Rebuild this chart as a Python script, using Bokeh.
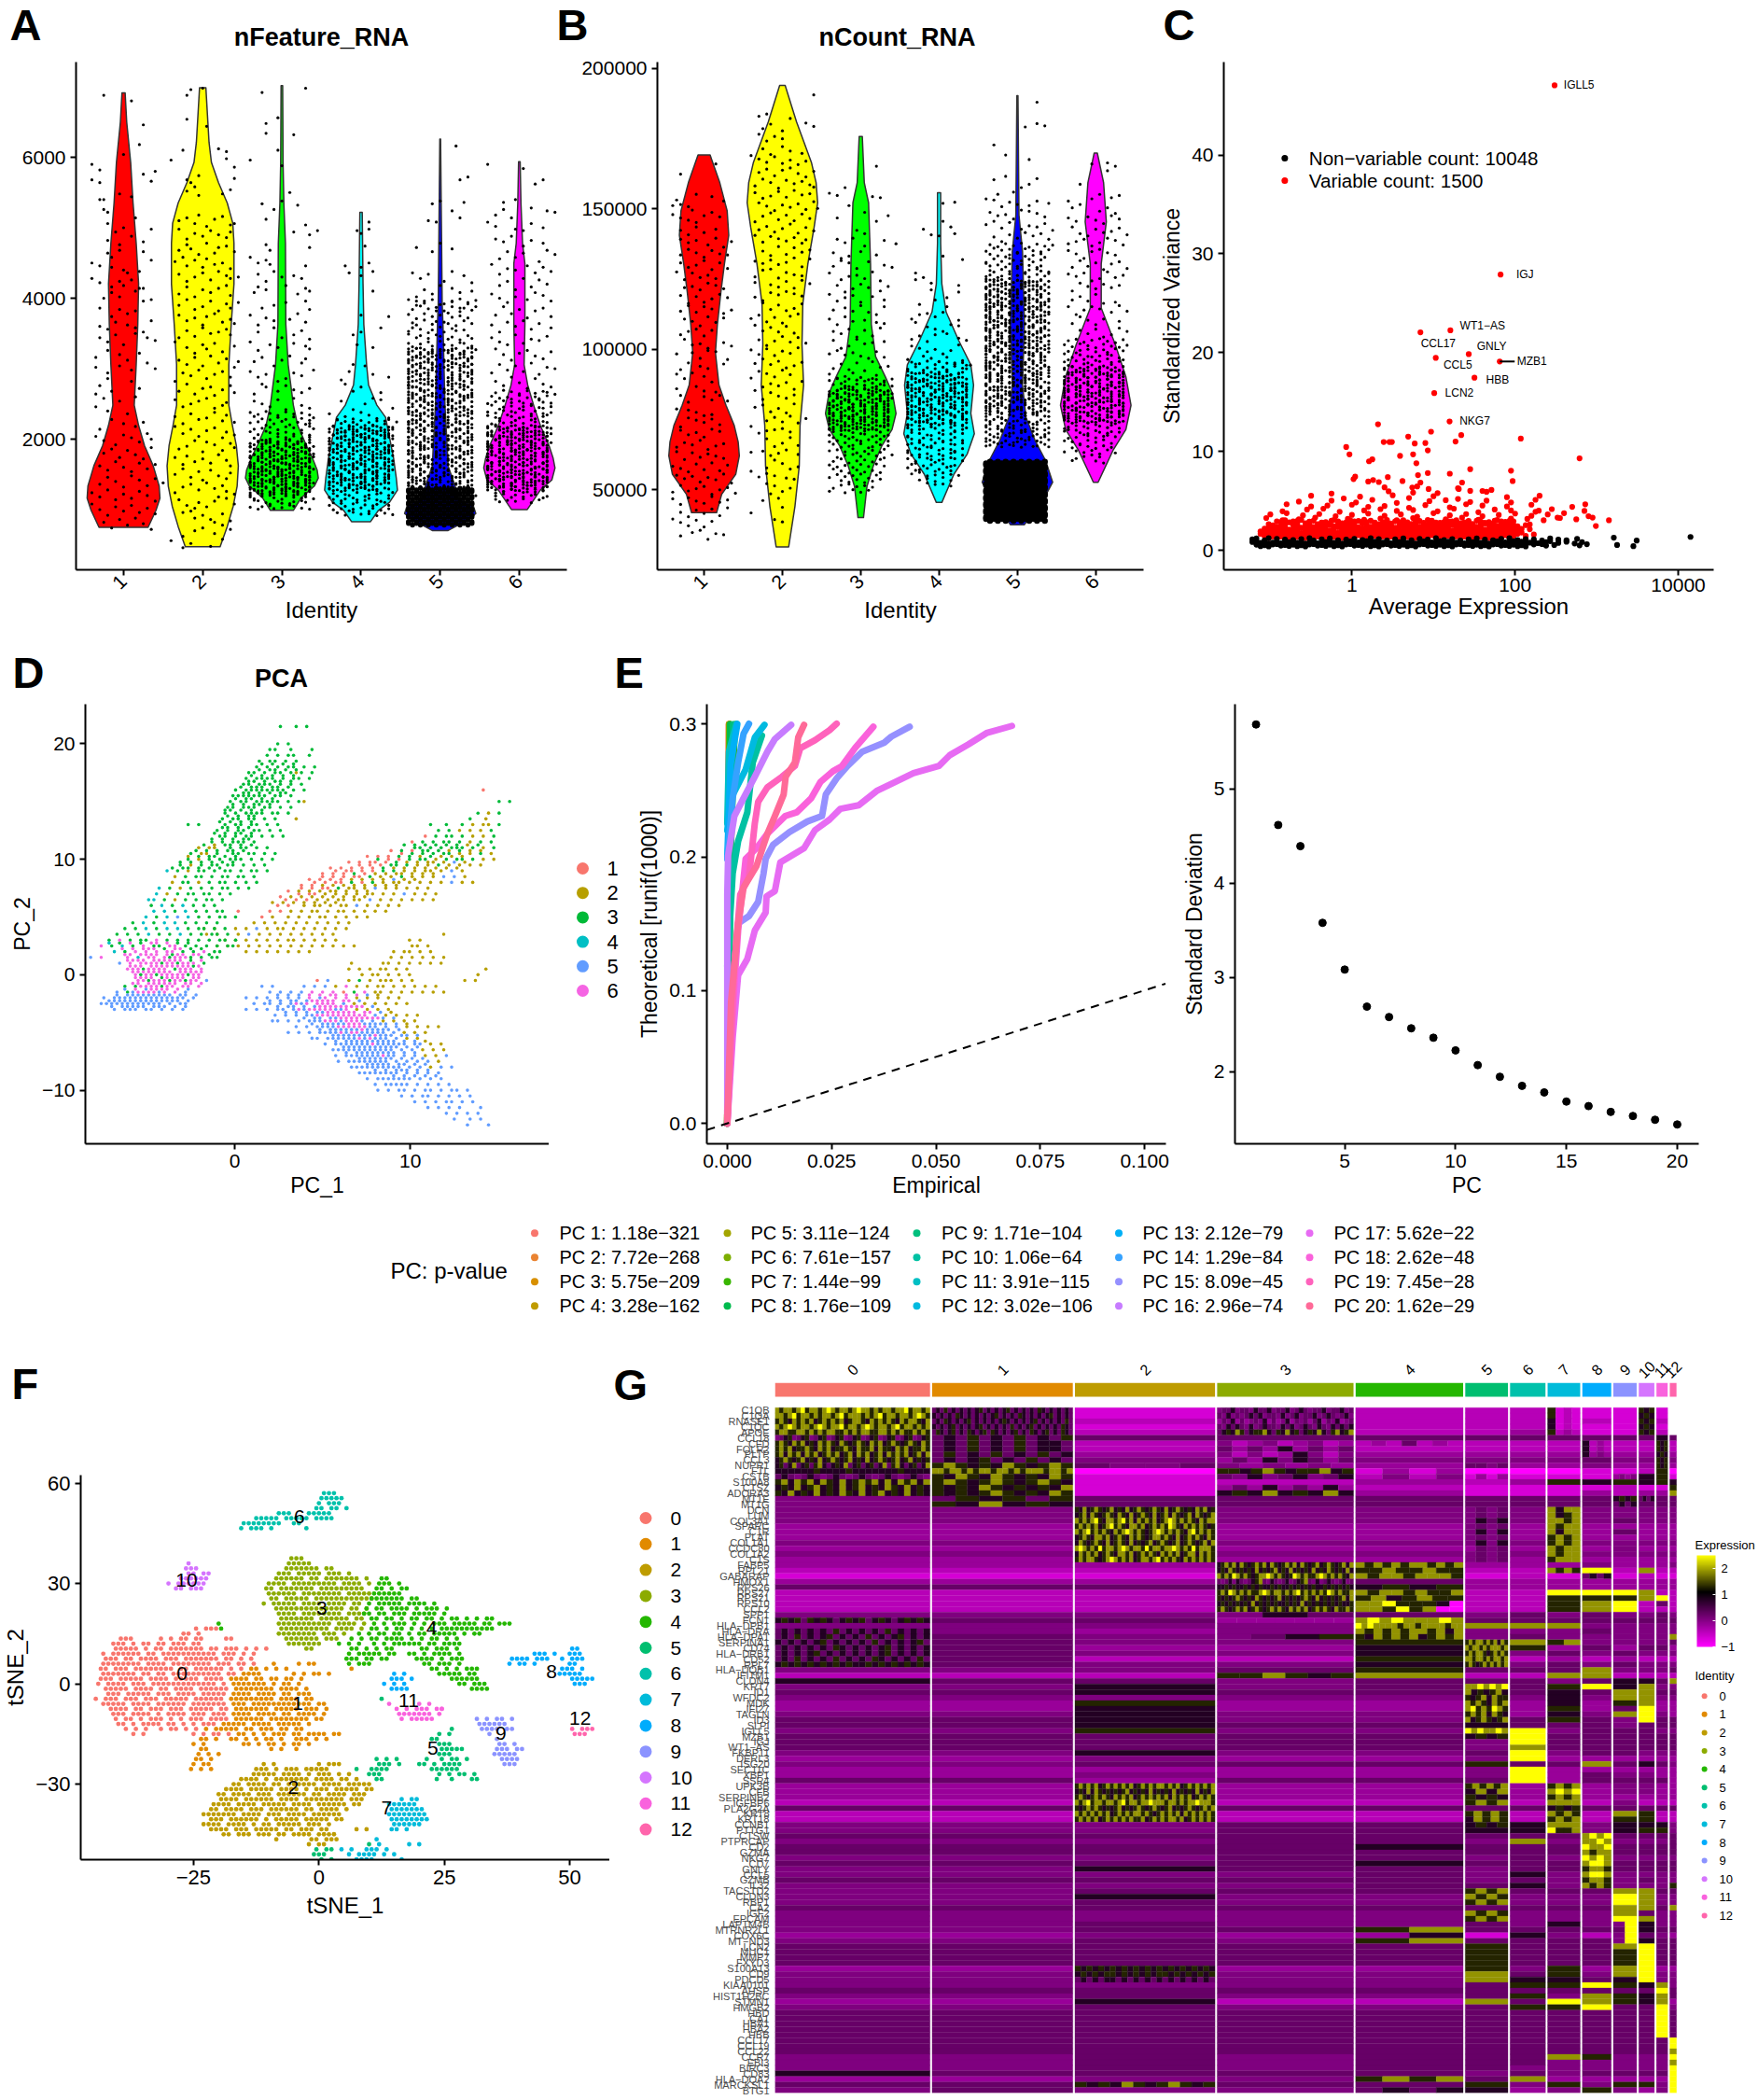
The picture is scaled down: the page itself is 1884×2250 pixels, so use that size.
from bokeh.plotting import figure
from bokeh.models import Range1d, FixedTicker, Label, ColorBar, LinearColorMapper, ColumnDataSource
from bokeh.layouts import row, column
from bokeh.embed import file_html
from bokeh.resources import INLINE

FONT = "Liberation Sans"
violin_colors = ["#FF0000", "#FFFF00", "#00FF00", "#00FFFF", "#0000FF", "#FF00FF"]
hue6 = ["#F8766D", "#B79F00", "#00BA38", "#00BFC4", "#619CFF", "#F564E3"]
hue13 = ["#F8766D", "#E18A00", "#BE9C00", "#8CAB00", "#24B700", "#00BE70", "#00C1AB", "#00BBDA", "#00ACFC", "#8B93FF", "#D575FE", "#F962DD", "#FF65AC"]
hue20 = ["#F8766D", "#EA8331", "#D89000", "#C09B00", "#A3A500", "#7CAE00", "#39B600", "#00BB4E", "#00BF7D", "#00C1A3", "#00BFC4", "#00BAE0", "#00B0F6", "#35A2FF", "#9590FF", "#C77CFF", "#E76BF3", "#FA62DB", "#FF62BC", "#FF6A98"]
pc_labels = ["PC 1: 1.18e\u2212321", "PC 2: 7.72e\u2212268", "PC 3: 5.75e\u2212209", "PC 4: 3.28e\u2212162", "PC 5: 3.11e\u2212124", "PC 6: 7.61e\u2212157", "PC 7: 1.44e\u221299", "PC 8: 1.76e\u2212109", "PC 9: 1.71e\u2212104", "PC 10: 1.06e\u221264", "PC 11: 3.91e\u2212115", "PC 12: 3.02e\u2212106", "PC 13: 2.12e\u221279", "PC 14: 1.29e\u221284", "PC 15: 8.09e\u221245", "PC 16: 2.96e\u221274", "PC 17: 5.62e\u221222", "PC 18: 2.62e\u221248", "PC 19: 7.45e\u221228", "PC 20: 1.62e\u221229"]

# violin outlines: (value, half width)
a_prof = [
 ([6913,6500,5926,5352,4778,4204,3630,3056,2482,2195,1908,1621,1334,1162,990,749],[.02,.04,.09,.12,.16,.19,.18,.16,.135,.19,.265,.375,.45,.46,.41,.31]),
 ([6988,6500,6213,5926,5640,5352,5065,4778,4204,3630,3056,2482,2195,1908,1621,1334,1047,760,473],[.04,.065,.08,.11,.2,.31,.38,.395,.395,.36,.33,.33,.375,.425,.45,.435,.385,.31,.22]),
 ([7017,5926,5352,4778,3630,3056,2482,2195,1908,1736,1564,1449,1334,1162,990],[.01,.015,.025,.045,.05,.08,.145,.2,.31,.385,.445,.46,.41,.24,.145]),
 ([5220,4204,3630,3056,2769,2482,2310,2023,1736,1449,1277,1105,990,829],[.015,.025,.035,.07,.095,.2,.31,.36,.41,.445,.46,.36,.22,.12]),
 ([6259,3917,3630,2482,1621,1161,1047,944,846,703],[.005,.025,.035,.06,.1,.24,.42,.45,.34,.1]),
 ([5937,5352,4778,4490,3630,3056,2769,2482,2195,1908,1736,1592,1420,1277,1001],[.01,.02,.04,.07,.07,.06,.105,.18,.265,.375,.425,.45,.41,.265,.1]),
]
b_prof = [
 ([169200,159400,149300,140600,130500,120500,108900,98800,87300,80100,72900,67100,62100,55600,48400,41900],[.077,.2,.295,.315,.26,.215,.17,.145,.19,.28,.385,.435,.45,.405,.225,.16]),
 ([194000,181000,166600,159400,152200,143500,130500,116100,101700,87300,72900,58500,44100,29700],[.035,.18,.37,.43,.45,.405,.325,.26,.25,.27,.225,.215,.16,.08]),
 ([175800,159400,152200,130500,108900,97400,90200,84400,77200,71500,65700,58500,51300,40100],[.02,.045,.1,.125,.135,.19,.315,.405,.45,.4,.27,.16,.08,.035]),
 ([155800,137800,123300,113300,103200,94500,87300,77200,70000,62800,55600,45500],[.02,.02,.035,.09,.25,.405,.44,.405,.45,.36,.19,.035]),
 ([190300,147800,134900,108900,87300,75800,67600,60400,52700,47000,37600],[.007,.02,.065,.09,.065,.11,.225,.36,.45,.34,.09]),
 ([169900,159400,145400,130500,114700,101700,90200,80100,71500,64300,52700],[.02,.1,.135,.07,.07,.25,.385,.45,.385,.225,.03]),
]
# jittered cells per identity: (top value, band height, rows); column = jitter position, digit = position inside the band
a_jit = {
1: [(6900, 200, ["   1      5", "", "             2", "            6", "        3", "0 4          7  5", "1 3            2", "  55   1  3", "   24      8", "    2 8 5      6", "    4  7  1  5", "    36 1     2 8", "0 2  3  57  6", "1 4  7 36 2 88", "   5 1 4   0 7 6", "  2  8 3 6 4", "  5 7 2  4 6 9 1", "  3 6 1 8  0  3 5", " 7  2  5 9  4", " 4  8  3  6   1 5", "  7 2     4 9", " 3 6 1 8   5", " 2  5    7", "  8  1  4  6 3", " 3 6  9 2 4 7 15", "   5 2 8 3 6 9 1", "  4 7 1 5 8 2 6 3", "  7 2 5 9 1 4 8 3 6", "3 6 1 8 4 7 2 5 9", "1 5 9 3 6 2 7 4 8", "   4 8 2 6 1 5 9"])],
2: [(7000, 200, ["    62  1", "", "    3    8", "", "   5        4 6", "2             1 7", "    68 3        5", "    4 17     6 3", "", "  5 3 71 9 4 2 87", "  1 8 4 6 2 5 73", "  6 25 9 1 84 3 7", " 4 17 3 82 6 5 9", "  3 8 5 2 7 1 46 5", "  7 2 9 4 6 3 18", "  5 1 8 6 2 9 47 3", "  2 6 4 93 1 7 58", "  8 3 7 1 5 4 26", " 1  5 9 36 2 8  4", "  4 7 2 8 1 6 3 95", " 9 3 5 1 7 4 2 6", "  6 1 8 4 39 5 27", " 2 7 5 3 1 8 64", " 4 9 2 6 5 1 73 8", " 1 6 3 8 4 2 95 7", "  7 5 1 92 4 8 36", " 3 82 6 4 7 1 59", " 5 1 7 39 2 6 84", " 8 4 2 6 1 5 37 9", "  3 7 95 8 41 2 6", "   2 16 4 79 3 8", "   9  5 3  7 1 4", "2  7 4    6  1"])],
3: [(7000, 200, ["   4          1", "", "    6  2", "    3      4", "       5", "2       6", "", "          5", "   3  7 1   4", "    4         8", "           3   5 2", "    26         4", "1 5 36        7", "  3 8 1 5  4 6", " 62 4    1  7 35", "   7  5  3    28", "2 9 4 6   5 1 7", "  4   1 8  6 3 9", "1 7  3 5   2  46", " 5 2  8 4 1  63", "2 6 4  9 7 3 5  1", " 8 13  6 2 5 7 4", " 3 5 7 2 9 1 6 8"]),
    (2400, 70, ["3 7 15 9 2 6 4 8", " 1 6 8 3 7 2 5 94", "4 2 9 6 1 8 3 75", " 7 5 3 8 2 4 9 16", "2 8 14 6 3 7 5 9", " 5 9 7 2 481 6 3", "6 1 34 8 5 92 74", "37 2 9 5 1 68 4 2", " 8 61 47 3 9 25 7", "5 3 82 96 1 47 63", "9 14 7 25 8 36 1", "2 86 3 59 71 4 68", " 47 12 83 65 9 3", "7 38 94 16 25 84", "15 62 7 39 48 2 6", " 93 4 81 57 26 3", "6 27 85 13 49 71", "48 3 16 92 5 74 8", " 12 69 37 84 25", "5 94 28 6 13 7 9"]),
    (2000, 50, ["  8 35 7 14 96 2", " 6 42 91 7 53 8", "1 97 3 58 26 4 7", "5 28 46 13 79 62", "84 6 27 95 38 14", "2 73 18 64 59 36", "69 5 41 87 23 95", "37 82 69 14 5 78", "14 96 35 72 48 2", "8 52 7 39 61 4 6", "46 13 85 27 9 34", "92 7 64 38 15 86", "3 58 21 96 74 45", "71 49 83 5 26 17", "25 6 94 12 68 39", "8 37 16 45 92 7"])],
4: [(5200, 200, ["          6", "       24 1", "         3", "    7   8 5", "     2  4  1", "           5", "", "        2      3", "      6 4    1", "       3   5", "      7  8", "   8 2     4   6", "    1 6 3    7", "   3  9  5 1 2  8", "2 6 4 8 1 3 7  5", " 1 5  3 7 9  4 6"]),
    (2300, 70, ["  4 7 2 5 9 1 63 8", " 6 1 8 3 5 47 2 9", "2 5 93 7 16 8 4 3", " 4 86 2 39 1 57 6", "7 1 5 48 3 26 9 2", "3 68 1 74 95 2 86", " 92 4 67 15 38 47", "5 17 83 6 29 41 6", "8 36 2 95 47 13 7", "14 7 56 28 93 6 4", " 69 38 1 54 72 85", "2 75 14 89 36 47", "93 46 7 18 52 63", "6 21 85 37 94 12", "47 92 6 13 58 24", " 38 57 1 96 42 71", "15 84 26 73 69 3", "72 39 41 6 85 17", " 6 4 85 2 93 7 4", "  2 7 1 5 4 8 3 6"]),
    (2200, 55, [" 3 8 14 6 92 7 5", "8 2 5 73 1 46 93", " 61 9 47 28 3 56", "4 35 82 16 79 41", "27 6 93 54 18 6", "9 14 68 27 35 82", "53 78 1 46 92 37", "6 29 35 81 74 12", "84 3 17 62 95 48", "17 52 96 3 48 75", "39 64 8 21 57 16", "72 15 43 96 8 24", "5 86 29 74 13 68", "41 37 65 9 82 53", "96 2 14 78 36 29", " 8 5 3 61 47 2", "3 7 92 5 18 6"])],
5: [(6200, 200, ["            2", "", "             6 4", "", "      3 1  8  2", "     5 6     3", "", "  4   7 1  5", "", " 2 6 3   8 1  4 9", "  9 4 7 1  3 6  5", "1 5 2  9 4 2 7 3 6"]),
    (4000, 100, ["  4 7 2 9  5 1 8 3", " 6 1 5 3 8 2 94 7", "3 9 2 6 4 17 5 8", " 58 1 73 46 9 2 6", "72 4 95 18 36 5", "1 63 7 24 85 9 37", "49 5 28 16 7 34 8", "6 17 93 5 42 86 1", " 84 36 71 92 5 63", "25 9 14 68 3 57 4", "7 38 62 4 19 85 2", "91 5 47 2 83 6 14", "4 68 23 79 51 36", "37 19 5 84 62 9 7", "82 46 71 35 96 1", "5 93 18 24 67 48", "16 74 39 82 5 63", "93 25 61 47 18 6", "48 16 83 92 57 4", "71 39 64 25 86 1", "25 8 47 16 93 54", "69 32 18 75 44 7", "14 76 93 28 65 1", "837 25 49 61 85 3", "52 96 14 73 28 6", "4791 36 82 54 19", "6138 25 97 43 86", "29 75 31 64 82 14", "85 42 67 19 36 7", "17 39 54 82 61 93"]),
    (3300, 62, ["38215 9 46 72 81 5", "5 96 1384 27 65 1", "72 4 81 39 56 274", "1 863 5 92 47 618", "94 27 638 15 724", "463 81 59 27 3 86", "8 15 4 72 93 6 51", "276 38 41 95 17 8", "59 14 827 63 49 2", "31 697 24 85 16 7", "847 29 5 16 38 94", "62 58 134 79 26 3", "193 47 86 52 71 4", "75 28 396 14 68 5", "486 93 17 25 84 6", "2 61 74 839 56 71", "95738 24 16 49 82", "1426 85 39 71 536", "68395 14 72 86 24", "37 92 1568 43 719", "516 48 27 93 8 65", "84 73 19 62 5 431", "29165 38 74 96 27", "76 431 85 12 69 5", "41 598 26 73 84 1", "935 62 14 87 36 2", "16 84 7 95 23 568", "5827 39 46 17 943", "74 15 63 82 497 1", "268 94 37 15 76 3", "93 46 218 75 6 84", "17 825 4 69 31 75", "5362 79 14 86 274", "84197 3 25 68 41 9"])],
6: [(5900, 200, ["0        3", "            4 1", "    7  5", "  6 2 8    1   3 4", "1 4    6 7 2  5", "  3 5 1  8 4  6", "   7 2 6 3   9 1 4", " 1 8 4 5  2 7 3 6", "   6 3 9 1 7 2 5", " 2 5 8 4  6 1 3 7", "  7 1 6 3 9 4 2 8", " 4 9 2 5 1 7 3  6", " 3 6 8 1 7 4 5 2", "  1 5 9 4 2 6 8 3", " 8 2 6 3 7 1 9 4 5", "  4 7 1 5 9 2 6 8"]),
    (2700, 70, ["  6 1 4 8 2 7 35 9", " 3 7 59 1 6 48 2", "8 4 2 6 37 9 15 7", " 1 95 3 84 2 67 4", "5 7 2 46 1 93 8 6", "2 68 14 75 39 41", " 9 37 62 8 15 46", "4 15 83 97 26 3 8", "76 2 49 18 53 6 9", "31 84 67 25 91 4", "9 26 5 83 47 16 7", "58 3 12 96 74 28", "14 79 36 52 8 63", "62 87 41 9 35 17", "37 5 94 18 62 84", "85 16 27 43 96 5", "2 64 71 59 38 12", "93 47 8 26 15 67", "46 12 93 78 54 3", "71 85 36 2 49 16", "3 9 6 24 81 7 5", "  5 1 83 7 42 96", "  27 4 6 1 9 3"]),
    (2200, 60, ["7 3 96 1 58 24 6", " 4 18 62 37 95 8", "26 5 83 19 74 36", "9 41 67 35 82 17", "58 2 14 96 73 48", "13 76 49 28 65 9", "84 39 2 57 16 73", "6 27 85 41 93 52", "39 64 17 82 5 96", "71 5 48 36 29 14", "25 83 69 7 41 38", "96 14 37 52 86 2", "4 78 21 65 93 47", "63 29 84 1 57 35", "18 57 46 93 2 86", "  3 7 1 5 8 2 4"])],
}
a_mass = ["50505050505050505", "05050505050505050"] * 6
b_jit = {
1: [(168000, 4000, ["           5", "  4", "", " 7    2   4  8", "2 1 36    8", "0 3 5 7 1   2", "  4 8 1 6  3", "  2 5 3  7 1 9 4", "  6 1 4 8 2 5 6", "  3 7 5 1 9 3 8", " 1 8 2 6 4 7", "   5 4 7 1 3 6", "  2 9 3 8 5 1 4", "  6 1 7 2 4  8 5", "   3 5 9 1 6 2", "  7 4 2 8 3", "   1 6 5 9   4 7", " 4   3 8 1 2  9", "  8 2  5 7   3", " 2 6 1  4 9", " 5    3 7  8", "  1 7   2 5 1 6", " 3  4 6 9 8", "  9 1 3 5 2 7", "  2 6 4 8 1 3", " 7 3 5 1 9 6 4", " 1 8 2 6 3 5 7", "4 6 9 2 7 1 8 3", " 2 5 3 8 4 6 1 9", "7 1 6 4 2 9 5 3 8", "3 8 2 5 7 1 6 4", "  5 9 3 6 2 8 1", "1 4 7 2 8 3", "  6  3 1 9 4 5"])],
2: [(193000, 4000, ["                6", "", "  5 3     7", "   6 2  8     1 4", "  1 7 3 5", "   4 9  2 6  8", "0 3 6 1 7 4 8 5", "  5 2 8 3 1 6 9 4", " 7 1 4 9 2 5 3 68", " 3 8 6 2 7 1 5 4", "  2 5 9 4 6 3 8 17", " 9 4 1 7 3 8 2 6", "  6 3 8 5 1 9 4 7", " 1 7 2 4 6 3 85", "   5 9 1 8 2 6 4", " 4 6 3 7 5 1 9 2", " 8 2 1 9 4 6 7", " 3   5 7 2 8 1 4", " 6 9 2 4 1 3 5", "   1 7 3 8 6 2", "5 2 8 4 9 3 1", " 1 6 3 7 2 8", "  4 9 5 1 6 2 7", "3 7 2 8 4 6 1", " 5 1 6 3 9 7 4", "8 2 4 7 1 5", " 9 6 3 5 2 8 1", "   7 1 4 6 3", " 4 2 8 5 9 1", "    6 3 7 2 8 4", "1 7 5 4 3 6", "    2 9 6 1 8", "4  3 7 5 2  6", "    8 1 4 9 7", "1 6 3 5  7 8", "    2 4 9 6", "   7 1 5", "8       3", "      4 6"])],
3: [(172000, 4000, ["", "            7", "", "    6", "1 3        4 5", "     2   8", "  3         6  1", "       4 7", "  2 5 1  8    3  6", " 4 9 7  3   6", " 6 1 3 8  2   5 7", "2  8 5 4 7 1 9", "  3 9 6 2 5  8 4", "1 7 4 2 8  3  6", " 5  3 6 1 7 9 2", "3 8 1 5  4  6 7", " 4 6 2 9 3 8 1", " 2 9 7 1 5 4  3", "4 1 5 3 6 8 2 7", " 7 3 8 2 9 1 6 5", "2 6 4 1 5 7 3 8", " 9 5 3 7 2 4 1"]),
    (90000, 1800, ["6 1 83 5 7 24 9 3", " 4 27 93 6 18 5 7", "8 5 1 46 2 73 96", "3 69 24 8 15 7 42", " 71 58 36 94 2 61", "46 2 93 17 85 36", "9 38 15 64 72 49", "25 7 84 91 36 18", "64 19 3 57 28 93", " 83 26 71 49 6 5", "17 54 92 63 38 4", "49 36 8 12 75 64", "7 5 91 46 3 82 6", " 2 8 64 1 97 3 5", "5 3 7 19 6 4 82", "  8 4 2 6 1 5 9 3", " 6 1 9 5 3 7 2", "3 7 4 8 2 6 1 5", " 1 5 9 3 7 4 8", "8 2 6 4 1 9 3", "   4 7 2 8 5 1", " 9 3 1 6 4 7", "5   8 2 7 3"]),
    (86000, 1500, ["  5 92 7 13 84 6", "7 3 18 46 92 53", " 82 56 3 71 49 2", "4 91 27 68 35 16", "63 5 84 19 72 48", "18 72 39 5 46 93", "95 34 61 87 2 57", "2 67 18 43 95 36", "41 89 52 6 17 84", "76 3 94 25 68 1"])],
4: [(154000, 4000, ["         5  4", "", "    8    1 6", "      3 4   2", "", "         2    5", "  7", "  3 1 6      8", "      2   9  4", "   5   1  7", " 8 4 3 6 2   9", "  1  5 7 9 3 4", " 6 3 8 2  1  5 7", " 2 4 7 5 9 6 1", "4 8 1 3 6 2 7 5 9"]),
    (96000, 1800, [" 3 6 1 82 5 7 49", "7 2 94 6 38 1 56", "14 5 83 7 29 63", " 6 97 2 41 85 3", "8 3 16 59 2 74 6", "25 71 48 6 93 17", " 94 3 62 85 14 7", "6 18 57 3 92 46", "39 42 7 15 68 24", "51 86 3 97 24 7", " 72 49 61 38 15", "46 3 85 27 91 6", "8 19 26 74 53 9", "37 65 14 8 29 63", "92 4 78 36 51 4", "15 83 6 49 72 8", "64 27 93 1 56 3", "8 35 12 74 69 4", "27 6 49 58 31 7", "4 91 36 75 24 8", " 53 8 61 4 97", "2 76 3 95 18", " 4 1 8 6 2 5 7", "   6 3 9 1 7", "     2 5 4 8"]),
    (92000, 1600, ["8 4 27 51 96 3", " 15 68 3 49 72 6", "39 2 74 16 85 47", "5 86 13 92 67 14", "62 47 95 3 18 53", "17 93 26 84 5 76", "84 5 61 39 27 18", "3 72 48 16 95 64", "96 14 53 78 2 39", "41 68 2 95 37 82", "25 9 73 46 81 16", "78 31 64 5 29 83"])],
5: [(190000, 4000, ["             5", "", "          7  4 6", "", "  3", "     2     6", "", "  4  1     8 3", "   7   5 1", "1 2 8 4 6  7 3  5", " 3 6 5 9 1 2 4 7", "4 1 7 2  8 5 6 3 9", "  5 9 3 6 1 4 2 7"]),
    (138000, 1800, [" 4 8 2 6 1 9 3 7 5", "7 1 5 3 9 2 6 8 4", " 3 6 84 1 7 5 29", "9 2 7 15 6 38 4", "16 4 82 73 5 96", " 58 3 7 1 94 26 8", "74 96 2 5 18 3 61", "2 35 81 46 97 5", "963 14 8 27 56 3", "18 27 546 93 41", "5473 16 2 98 36", "29 81 63 74 15 8", "86134 9 52 76 43", "37 52 9 48 16 27", "41 98 36 5 72 64", "7256 84 19 3 58", "9 34 17 62 85 96", "15 7 48 23 6 94", "68 29 54 1 73 84", "3 71 86 42 95 6", "9527 14 36 8 49", "42 85 71 3 69 8", "1 76 92 58 24 3", "86 34 15 97 6 2", "53 18 7 42 69 84", "27 96 3 51 48 7", "64 18 57 29 36", "91 42 86 73 15", "3 57 6 14 98 27", "8 29 45 63 71 9", "16 73 2 85 94 4", "59 84 36 17 2 6", "74 12 9 58 63 3", "23 68 41 97 85 1"]),
    (125000, 1500, ["526 19 83 74 61 5", "83 47 29 615 38 9", "1749 36 52 84 27", "65 91 473 28 16 4", "38 257 14 69 83 7", "94 16 82 537 46 2", "275 64 39 18 75 6", "41 83 965 27 14 8", "69 47 12 58 396 3", "138 26 754 91 68", "72 95 41 36 82 14", "5964 17 83 25 97", "27 68 314 59 46 1", "84 35 96 27 18 63", "16 79 43 825 61 7", "935 28 64 17 4 85", "47 16 58 92 36 74", "82 539 71 46 19 3", "6 24 87 35 91 64", "3971 58 26 14 83", "58 46 93 72 15 49", "124 67 38 59 82 6", "76 93 14 28 457 3", "45 81 269 37 96 1", "93 27 54 16 78 46", "18 65 732 49 35 8", "62 43 98 15 27 64", "5 87 31 96 42 719", "849 25 16 73 58 3", "37 64 91 28 45 16", "2716 53 84 69 37", "95 38 42 17 683 4", "61 79 25 84 13 56", "483 15 76 29 94 7", "74 92 38 61 45 2", "16 58 24 97 36 83", "39 71 65 42 18 95", "8 46 13 79 52 64", "527 94 86 31 47 1", "64 18 35 92 76 28"])],
6: [(168000, 4000, ["       5   4 7", "           1", "    3", " 8     6 2  5 3", "  4 1    7 4 9", " 3 6  2 5 8 1 4", "  1 7 9 3 6 5 2 8", " 6 4 2 8 5 1 3 7", " 2 5 9 3 1 4 6", "  7 1 6 3 9 4 2 8", " 3 5 2 9 7 1 6 4", "  8 1 4 6 2 5 3", "  6 3 7 1 9  8", " 2 9 5 2 4  7 1 6", "  7 1 4 8 3   5", "    3 6 2 9 7 1 4"]),
    (104000, 1800, [" 5 2 8 4 1 6 9 3", "3 7 1 5 9 2 6 8 4", " 6 94 2 7 38 1 5", "1 8 3 67 5 24 9", "73 5 29 46 18 63", " 46 91 3 75 28 6", "28 7 54 16 93 47", "6 39 18 72 45 36", "95 42 6 83 17 9", "14 78 36 5 92 64", "83 25 79 41 6 58", "37 1 64 92 85 23", "62 94 18 37 5 79", "5 48 72 16 93 2", "19 36 84 2 57 41", "74 65 3 98 26 13", "2 81 47 63 5 96", "96 3 58 14 72 8", "41 27 9 36 85 6", " 8 6 13 7 42 5", "3 5 9 2 6 1 8", "  7 1 4 8 3 6", "5  3 6 2 9 1 7", "   8 4 1 5", "  2     3 7"]),
    (94000, 1700, ["4 18 62 95 37 8", " 73 29 5 46 81 6", "95 6 14 38 72 49", "2 84 57 16 93 35", "68 31 92 47 15 8", "13 79 4 65 28 94", "57 42 83 16 9 36", "81 6 29 75 34 17", "36 95 14 58 72 4", "7 23 68 91 45 83", "49 18 35 2 76 61", "25 74 96 13 84 5"])],
}
b_mass = ["5050505050505050", "0505050505050505"] * 9
# panel C: log10 mean expression and standardized variance
hv_names = ["IGLL5", "IGJ", "WT1\u2212AS", "CCL17", "GNLY", "CCL5", "MZB1", "HBB", "LCN2", "NKG7"]
hv_logx = [2.484, 1.822, 1.207, 0.84, 1.432, 1.028, 1.812, 1.502, 1.009, 1.197]
hv_y = [47.05, 27.9, 22.25, 22.05, 19.84, 19.47, 19.1, 17.46, 15.9, 13.03]
hv_text_logx = [2.596, 2.014, 1.324, 0.845, 1.531, 1.122, 2.023, 1.643, 1.141, 1.319]
hv_text_y = [47.1, 27.95, 22.75, 20.95, 20.6, 18.75, 19.1, 17.25, 15.9, 13.05]
red_logx = [.32,-.07,-.03,.39,.46,.49,.69,.77,.90,.97,1.34,1.27,.93,.75,.59,.79,.21,.25,2.07,2.79,1.95,1.97,1.45,1.20,.93,.81,.44,.04,.02,.20,.26,.33,.62,.84,1.35,2.86,2.99,2.52,2.29,1.31,.94,.74,1.60,1.71]
red_y = [12.75,10.45,9.7,10.95,10.95,10.95,11.5,10.8,10.85,12,11.65,11,10.1,9.7,9.55,8.8,9,9.2,11.3,9.3,8.05,7,8.2,7.75,7.8,7.6,7.4,7.45,7.2,6.95,7.1,6.9,7,6.85,6.85,4.65,2.45,3.3,4,6.2,6.2,6.35,6,6.1]
red_rows = ["                3   1    5", "         7      2  5  6   1 3", "       2   8 4   1 7  3  9     5   2", "     5   3  7 1  8   4 2  6 3  7  1", "    1  6 4  2 7 5  9 3  8 1 4  6  2    7", "   7  3 1 8  5 2 6 4  7 1  9 3 5  8 2   6", "  4 1 6 3 8 5 2 7 4 9 1 6 3 8 5 2 7 4 1  8", " 2 7 5 1 8 4 6 3 7 2 9 5 1 6 8 3 4 7 2 5 1 7"]
red_dense = ["      5 28 41 63 97 15 82 46 39 71 5 28 64 13 97 52 84 36 7 19 45", "    37 92 15 84 6 73 28 49 15 67 38 92 54 16 83 7 29 46 51 38 72 9 64", "   6184 29 73 51 68 42 97 35 18 64 72 95 13 48 26 71 83 59 14 62 37 8", "  4927361584927361584927361584927361584927361584927361584927361584", "  1738264951738264951738264951738264951738264951738264951738264951 7 3"]
red_dense2 = ["       38 15 62 94 7 26 81 53 49 17 36 82 5 74 91 26 38 45 7 12", "     2659 14 83 76 25 94 18 37 62 59 41 86 23 75 19 48 63 27 5 91", "    74185 36 92 47 81 53 26 69 14 38 75 92 41 67 83 25 19 56 48 3", "   51862947351862947351862947351862947351862947351862947351862947 3", "   29475183629475183629475183629475183629475183629475183629475183"]
black_rows = ["  52 81 3 6 7 4 19 5 2 8 6 3 7 1 4 9 5 2 8 3 6 1 7 4 9 5 2 6 8 3 1 7 4 5 9 2 6 8", "  41739628541739628541739628541739628541739628541739628541739628541739628541 7 3 9", "   3859216473859216473859216473859216473859216473859216473859216473859 2 16 4"]
black_logx = [2.76,2.82,2.79,2.88,3.21,3.25,3.45,3.49,4.15]
black_y = [1.15,.82,.49,.61,1.27,.53,.41,.98,1.35]
# panel D: cluster character placed by column and row
d_rows = ["37|3  3 3", "", "", "36|3 3", "35|33  3   3", "34|3 3 33  3", "33|3 33 3 3", "32|3 3 3 33 3 3", "31|33 3 33 323 3", "30|3 3333 3 33 3", "30|33 333 3 3 3", "28|3 33333333 3 3;75|1", "28|3333333 33 3", "27|3 33 33333 3 32;78|3 3", "27|33 333 33 3 3", "26|3 3 3333 33 3;74|3 2 3", "26|3 33 33 3 3   2;73|3  2", "19|3 3    3 33 33 3 3;65|3  3  3 2 22 3", "25|3 3 33 33 3 3;67|3 3 2 2 2 3", "25|33 3 33 3 3 3;64|1 3 33 3 2 2 3", "24|3 3 333 3;62|1 3 3 33 3 2 3 3", "21|2 22  3 33 3 3;62|33 3 3 333 3 2 3", "20|3 22 3  33 33 3 3;60|1 3 3 3 33 2 2 3 2", "19|3 2 3 3 333 3 3 3;55|3 1 1 3 33 2 3 33 3 2 2", "18|3 2 3 33 33 3 3 3;52|1 1 1 33 3 2 2 3 2 2 2 2", "15|4 3 2 33 3 33 3 33 3;47|1 11 1 1 3 3 2 2 22 2 5 2", "17|2 3 33 3 33 33 3;45|1 1 1 11 3 2 2 3 2 2 2 5 5 2", "16|2 33 2 3 33 3 3 3;43|1 1 11 3 1 3 2 22 2 2 2 2 5 2 2", "14|4 3 2 3 3 3 33 3 3;41|1 1 11 3 22 2 5 2 2 2 2 2", "13|4 2 3 33 33 3 3;40|1 11 2 2 2 2 22 2 2 5 2 2 2", "12|44 3 2 3 3 33 3;38|1 1 1 2 2 22 22 5 2 2 2 2 2 2", "12|3 4 3 4 3 3 3;36|1 1  2 22 2 22 5 2 2 2 2", "13|4 4 3 4 3 3 33;29|1;35|1 1 2 2 22 2 22 2 2 2 2", "11|4 3 4 5 4 3 3 33 3;33|1 2  2 2 2 22 2 2 2 2", "9|3 4 3 4 4 3 3 3 3;32|2 2 2 2 2 2 2 2 2 2", "7|3 3 4 3 4 4 3 33 3;22|2 2 3 2 2 5 2 22 2 2 2 2 2 2", "6|3 3 3 4 3 3 4 3 3 33;23|2 2 3 2 5 2 2 2 2 2 2 2 2;68|2", "4|3 6 3 33 6 3 3 3 3 3 33 3;26|2 2 2 2 2 2 22 2 2 2 2;61|2 2", "3|6 3 4 3 6 33 66 3 3 3 3 33;25|2 2 2 2 2 2 2 2 2 2 2 2 2 2;62|22 2", "5|4 3 6 6 6 66 3 3 6 33;30|2 2 2 2 2 2 2;58|2 22 2 2", "1|5 6;8|6 4 66 636663 3 33;58|2 2 2 2 2;68|2", "6|5 6 66663663666 3;50|2;56|22 2 2 2 2 2", "8|66636666 3666 6;50|2 2 2 22 2 2;76|2", "9|6366366666366;52|2 22 2 2 2;74|2", "10|663666366366 5;44|1 5;50|2 3 2 222 2 2;72|2 2", "7|3 36666366 66 6;33|5 5;41|5 5 5 2 6 2 2 22 2 2 2 2 2", "6|5 35666656 6 5;35|5 5 5 5 6 6 6 1 3 6 22 2 2 2 2 2 2", "3|5 55555555555555 5;30|5 5 5 5 5 5 6 56 6 6 2 2 2 2 2", "3|555555555555 5 55;32|5 55 5 5656 6666 5 2 2 2 2 2 2", "5|5 555 55 5 5 5;30|5 5 5 55 56566666556 2 2 2 2", "36|5 5 5 556666666666 5 2 2 2 2", "35|55 5 5 55566656665 5 2 2 2 2", "40|5 5 555566666655 5 5 2 2 2 2", "38|5 5 5 5555656655555 5 2 2 2", "43|55 555555656555 5 2 2", "45|5 55555556555555 55 2 2", "47|555555555555 5 5 2 2 2", "47|5 5555555655 5 5 2 2 5", "48|5 55555555 5 5 5 5 2", "50|5555555555 5 5 2 5 5", "52|55555555 5 5 5 5", "53|5 5555555 5 5 5", "55|5 55555 5 5 5 5", "55|5 5 55 5 55 5 55 5", "60|5 5 55 5 5 5 5", "62|5 5 5 55 5 5", "65|5 5 5 5   5", "68|5 5 5 5", "70|5  5 5", "72|5   5"]
d_extra = [
 (18.25, ["33|3 3 3 3", "32|3 33 3 3", "31|3 3 3 3 3", "30|33 3 33 3", "29|3 333 33 3", "29|33 3 3 33", "28|3 33 3 3", "27|3 3 33 3", "26|33 3 3 3", "26|3 3 33", "25|3 3 3 3", "25|33 3 3", "24|3 3 33 3", "23|3 3 3 33", "22|3 2 33 3 3", "20|3 3 3 33 3", "19|2 3 33 3 3", "17|3 3 3 3 3 3", "16|3 33 3 3 3"]),
 (11.25, ["60|3 3 3 3 3 3 2 3", "57|1 3 1 33 3 2 3 2 2", "53|1 1 1 3 3 2 3 2 2 2", "49|1 1 11 1 3 2 2 22 2 5 2", "46|1 1 1 1 1 3 2 2 2 2 2 2 2", "44|1 1 1 3 1 2 2 22 2 2 2", "42|1 1 1 1 2 2 2 2 5 2 2", "40|1 1 2 2 2 2 2 2 2 2", "38|1 2 2 2 22 2 2 2", "36|1 2 2 2 2 2 2 2 2", "35|2 2 2 2 2 2 2"]),
 (2.75, ["4|4 3 6 3 66 6 3 3", "6|6 6 666 3 66 3 3", "7|66 6666 6366 66 3", "7|6666 666666 3 6", "8|666 6666666636", "8|66666666 66666", "9|6666 36666 66", "8|66 666666 66 6", "7|5 6 56666 6 5", "5|5 555555555 55 5", "4|55555555555555 5", "4|5 55555 555 5 5"]),
 (-1.75, ["36|5 5 5 6 6 66 6 6 5 2", "34|5 5 55 566666 66 5", "36|5 55 5 5666666666 5", "37|5 5 5 55666666 66 5 2", "41|5 55 55666666665 5", "42|5 5555566655555 5 2", "44|5 555555655555 5", "46|555555556555 55 5", "47|5 5555555555 5 5 2", "48|55555555555 5 5", "49|5 55555555 5 5", "51|5555555 5 5 5", "53|55555 55 5 5", "54|5 5 555 5 5", "58|5 5 5 5 5"]),
]
# panel F
f_rows = ["47|666", "46|66666", "46|6 666", "45|66 66 6", "38|666;44|66666", "33|66666 666;41|666 6666", "31|66666666;41|66", "30|6 666 6;43|6", "", "", "", "", "", "40|333", "20|a;40|33333", "19|aaa;39|3333333 33", "20|aa aa;38|333 33333 333 3", "18|aaaaaa;37|333333 33 3333333 3;58|44", "16|a aaaaaa;36|3333 333333333 3333 3;58|444 4", "17|aa aaa;35|33 3333333 333333333;57|44 4 44", "36|333333 33333333 33333;57|444444", "36|33 33333 333333333333;56|4444444 44", "35|3 33333 3333 3333 33;56|4 44444 4444 4", "37|33333333333333 33 3;55|4 44 4444 4 444 4", "38|3333 33333333 3333;55|44 44 444 44444 4", "38|3333333 333333 33;56|44 44 4 44 44 4 44 4 4 44", "26|4;38|33333333333 3333;55|3 4 4 444 4 4 444 44444 44 444", "21|0 0004;38|3333333333 3333 3;56|44 4 44 4 4 4 44444444444", "19|00 0;38|33333333 333 3;54|4 4 44 44 4 44 44444 4 44", "6|000;14|0 0 00 00;27|00;39|3333333 333;52|4 4 44 4444 4 4 44 4 4", "5|000 0;11|00 00 000 00;40|3333333;50|4 4 4;57|4 4 444444 44 4444", "5|00000 0 00 0000000 00 000 0 0 0;43|33;52|44 4 4 44;66|44 444 4;96|88", "3|0 000000 00 00000000000 000 0 0;52|4 44444 44;64|44 4 4444 4;89|888 8;96|888", "3|000 00 0000 000 0000000 00 0 0;51|444 44 44;65|4444 4 444;84|8888 888;94|8 888", "3|00000000 0000 00000000 000 00 0;37|1;42|1 11;52|4 444;67|44 444 4;84|8 88 8;96|88", "2|00 000 00000000 00 000000 0 0 11 1 1 1;52|1;68|44 4 4 444;94|888 8", "3|0000000 00 00 0000000000 00 1111;41|1 1 11 1;61|8 8;70|44444 44;94|88888", "2|000 00000 0000 00000 0000 1111 11 11 11 1;60|888 8;72|444444;96|88888", "2|0 0000 000 0000000000000 0 1111111 1 11 1;59|8 8 8;74|44 444;97|888", "3|00000 0000 00 0000 000000 11111111 1111 1;60|8888;76|4444", "4|000 00000 000 0000 00000 1111 1111 11 111", "1|0 000 000 000 00000 000000 111111111 1111 11;58|5", "3|00000 0000 000000 0000000 111 111111111111 11;60|b;66|b b", "4|0000 00 000 000 00000 00 1111111 11111 111 1;61|b b bbb bb;70|b", "5|000 0000 0 0000 000 000 1111 1111 11 1111 1;62|bbbbbbb b", "5|0 00 0 000 0 0 000 0000 111111 11111111 11;62|b bbbbb;77|9 9 99 9", "6|00 0 0000 00 0 0 000 11111 1111 11111 1;78|999999", "7|0 0 0  0 00 0 0 1 11111 11 111 11 11;72|5;78|9999 99;96|c ccc", "9|0 0;21|0 0 00 0 11 1 1 111 11 1111 11;70|5 5;80|9;97|ccc", "22|11 1  11 1 1 11 1  111 1 1;68|55;81|9", "21|1 1;31|11 1 11 1 11 1;70|555;82|99 9", "22|11;36|1 1  1;70|55555;81|999 99", "22|1 1 1;70|555;81|99999", "21|11 1;57|5 5 5;67|5  5 55 5;82|9999", "21|1 11;35|2 2;46|2 222;58|555 5;66|55 5 5555;83|999", "20|1 1 1;33|222 2 222 22 2;44|2222;53|5;56|5555;68|555555", "33|22222 2222 2 222 2 2;56|555;70|5 5 55 5", "30|2222 2 2222222 2222 22 2;57|55;69|5  5   55", "29|22 2222 22 222222 2222 22222", "27|2222 22222 2222 2 222 22222 22", "26|22 2222 222 222222 22 2222 222", "26|2222 222222 2222 22222222 222;62|7 77", "25|2222 2222 22222 2222 222222 22;60|777777", "24|22 2222 222 222222 22 2222 2;60|7777777", "23|2222222 2222 222 2222 222222;60|77777777", "24|222 222222 2 22222 22222 22;60|77777777", "23|2222 2222 2 22 22222 222 2;61|777777", "24|2222 222 22222 22 222 22;53|2 2;60|77 7", "27|22 222 222 22 2222 2222", "37|2;44|22 222;57|7", "44|2 22;56|5 7;64|7 7", "45|5 55;50|7 7;55|777 7", "45|555;52|7 7777 7 7", "46|5 5;53|7777;62|7", "54|777 7"]
f_label_x = [-27.3, -4.2, -5.1, .55, 22.5, 22.7, -3.9, 13.5, 46.4, 36.3, -26.4, 17.9, 52.1]
f_label_y = [3.2, -5.9, -30.9, 22.6, 16.9, -19.3, 50, -37.1, 3.6, -14.7, 31, -5, -10.2]
# panel E: QQ curves
pc_x = [[0,.0004],[0,.0004],[0,.0006],[0,.0006],[0,.0005],[0,.0005],[0,.0008,.0018],[0,.0007],[0,.0008,.0014],
 [0,.0013,.0026,.0048,.0061,.0083],[0,.0004,.0022],[0,.0009,.0044,.0066,.0089],[0,.0008,.0024],[0,.0013,.0026,.0039,.0052],
 [0,.0009,.0026,.0052,.0074,.0087,.0092,.011,.0149,.0192,.0227,.0236,.0262,.0288,.0323,.0376,.0393,.0437],
 [0,0,.0002,.0017,.0039,.0066,.0096,.0114,.0153],
 [0,.0013,.0026,.0048,.0066,.0092,.0094,.0114,.0127,.0184,.021,.0245,.0271,.0315,.0358,.0393,.0446,.0507,.0533,.0577,.0621,.0682],
 [0,.0017,.0026,.0044,.007,.0096,.0139,.0166,.0201,.0223,.0253,.0275,.0306,.035],
 [0,.0017,.0031,.0052,.0066,.0074,.0096,.0131,.0162,.0175,.021,.0245,.0262],
 [0,.0009,.0026,.0039,.007,.0096,.0114,.0135,.014,.0162,.017,.0184]]
pc_y = [[0,.3],[0,.3],[0,.3],[0,.3],[0,.3],[0,.3],[0,.2,.3],[0,.3],[0,.2,.3],
 [.1182,.188,.2122,.2337,.2713,.2914],[.2256,.2793,.3003],[.2203,.2444,.2659,.29,.2995],[.2,.27,.3],[.1988,.2444,.2713,.2928,.3003],
 [0,.0913,.1504,.1558,.1665,.188,.1988,.2095,.2189,.2269,.231,.2471,.2592,.2686,.2793,.2861,.2906,.2981],
 [0,.1719,.2014,.231,.2444,.2605,.2793,.2888,.2995],
 [0,.0645,.1115,.1236,.145,.1585,.1706,.1746,.1961,.2068,.2203,.2283,.2364,.2391,.2498,.2552,.2632,.2686,.2767,.2847,.2933,.2987],
 [0,.1048,.145,.1988,.2068,.2176,.231,.2337,.2444,.2565,.2646,.2686,.282,.2981],
 [0,.1182,.1719,.1853,.2256,.2417,.2525,.2605,.2686,.282,.2879,.2955,.3003],
 [0,.0913,.1504,.1773,.1934,.2176,.231,.2471,.2605,.2713,.2901,.2995]]
pc_sd = [5.683, 4.617, 4.392, 3.579, 3.083, 2.69, 2.58, 2.46, 2.36, 2.226, 2.07, 1.946, 1.85, 1.78, 1.683, 1.635, 1.573, 1.53, 1.49, 1.44]
# panel G
cluster_width = [166.5, 151, 150.4, 146.4, 115.4, 45.8, 38, 35, 31, 25, 16.7, 12, 7.2]
genes = ["C1QB","C1QA","RNASE1","C1QC","APOE","CCL18","CFD","FOLR2","PLTP","CCL3","NUPR1","FTL","CSTB","S100A8","CTSZ","ADORA3","MT1E","MT1G","DCN","LUM","COL3A1","SPARC","C1R","PLAT","COL1A1","CCDC80","COL1A2","C1S","FABP5","RPL21","GABARAP","HMOX1","RPS26","RPS27","RPS21","RPS10","CCL2","SPP1","FCN1","HLA\u2212DPB1","HLA\u2212DRA","HLA\u2212DPA1","SERPINA1","CD74","HLA\u2212DRB1","CD52","RPL7","HLA\u2212DQB1","IFITM1","CLDN4","KRT7","ID1","WFDC2","MDK","IFI27","TAGLN","ID3","SLPI","IGLL5","MZB1","IGJ","WT1\u2212AS","FKBP11","DERL3","ISG20","SEC11C","XBP1","SSR4","UPK3B","CFB","SERPINB2","IGFBP6","PLA2G2A","KRT8","KRT18","CCNB1","PTTG1","CTSW","PTPRCAP","CD2","GZMA","NKG7","CD7","GNLY","CCL5","GZMB","IL32","TACSTD2","CLDN3","RBP1","CA2","IGF2","EPCAM","LAPTM4B","MTRNR2L1","COX6C","MT\u2212ND3","LCN2","MUC1","MMP7","FXYD3","S100A13","CD9","PDCD5","KIAA0101","AHSP","HIST1H2BC","STMN1","HMGB2","HBD","CA1","HBA1","HBA2","HBB","CCL17","CCL19","CCL22","CCR7","EBI3","BIRC3","CD83","HLA\u2212DQA2","MARCKSL1","BTG1"]
heat_level = [-1, -.65, -.4, -.15, .05, .25, .8, 1.3, 1.9, 2.5]
heat_rows = [
"878878978878987887898878788788978878 565756565656756565675656565765656565 1 455645546556455645654556455645 2 2 2 7121 1 1 767 1",
"887897887878878978887878978878878987 656565765656565675656576565656756565 1 546454565645546456455645654564 2 2 2 7121 1 1 676 1",
"787687878678787867887687878768788768 565765656756565656765656567565656575 2 354635345463534635453563546345 2 2 2 6121 2 1 767 2",
"878987887898788978878987887897887878 656567565656756565657565675656565765 1 546565464565546564565465465656 2 2 2 6121 1 1 676 1",
"788778878787887787878877887878778787 576567565765675765656756576567565765 2 567687567786576867567686578678 2 2 3 7232 1 1 767 2",
"456745674567456745674567456745674567 565756575657 5 5 5 5 5 5 5 5 5 6 5",
"787687867687876876787687867876787687 565756575665 2 423423423 2325232 2 2 2 6232 2 2 767 2",
"787867787687867787687786877687867787 565756575665 2 535363535 2 2 2 2 6232 2 2 767 2",
"786878687867878678687867868787867868 575657565756 3 424236424 3 3 3 3 6343 3 3 676 3",
"678767867686787678676867876786786767 565675657565 4 353646535 4 4 4 4 5 4 4 767 4",
"675685675786567685675675685786567568 787676876787 5445 434343 3 5545 3 3 4 3 3 767 3",
"666666766667666666676666 887887878878878788878878 0 776787677867 1313 0 0 0 1 1 2 7 0",
"565456545654565456545654 768768767687 1 546456456 2424 1313 1 1 1 3434 6 7 1",
"786878687686787868687868 787678767876 1 2 3 2 3 7 6 7 6 7 6 1 1 1 3 2 3 2 6 7 1",
"676867867686786768768676 767687676768 1 353635363 2 1 1 1 1 2 1 1 7 1",
"768676867687686786768676 767678767687 1 676867686 3 1 1 1 3 2 3 3 8 2",
"4 576757 5 5 5 5 5 5 5 6767 5656 5 5",
"4 768676 5 5 5 5 5 5 5 5656 5 5 5",
"4 4 768678767867686787678768678767687867 4 4 4545 4 8688 4 4 4 4 4",
"4 4 678687678768768678768678687678687678 4 4 4545 4 8678 4 4 4 4 4",
"4 4 878789768878978687878678987878768788 4 4 4656 4 8878 4 5 4 4 4",
"3 3 787878678978768878678787987687878767 3 3 4545 3 8788 3 3 3 3 3",
"3 3 878978787687898787678987878768978787 3 3 4646 3 8688 3 5 3 3 3",
"3 3 678768878678768787678878768678787687 3 3 4545 3 7878 3 3 3 3 3",
"4 4 687678768678768676786787678678767868 4 4 4646 4 7878 4 4 4 4 4",
"3 3 898787978878987887978878898787978887 3 3 3545 3 8788 3 4 3 3 3",
"4 4 687878678768878678787687878678868787 4 4 4545 4 8788 4 4 4 4 4",
"3 3 787887678987878678878978787687878787 3 3 4545 3 7888 3 3 3 3 3",
"3 3 3 678786876787868767878687678678767868 878787887878 3 3 3 4 3 3 3 4",
"2 2 2 676876767686767867686767686768767686 77877877 2 2 8787 9 2 8 2 2 2 2",
"1 1 1 878798787678898787679878778987878768 878878887 1 2 1 5656 1 2 1 1 1 1",
"3 3 3 545646545678546545645678546456545645 5 3 3 3 3 3 3 3 3",
"5 5 5 667676676767667676676767676676767676 6767 3 3 3 3 3 3 3 3",
"2 2 2 787987878778987887878978787879878778 878878778 2 2 9 9 9 8 2 2 2 2 2",
"2 2 2 767678767687676786767678768676767868 7867877 2 2 7 7 7 8 9 2 2 2 2 2",
"2 2 2 676767676867676766767686767676767667 88977760 2 2 7 8 9 2 5 2 2 2",
"2 2 2 787678786787678787687878678787687787 88797800 2 2 7 8 9 2 2 2 2 2",
"4 4 4 465 5 4 5 4 5 4 4 5 4",
"676757676567675676567676 5 5 3333333 898988898 5 5 5 5 5 5 5 5 5",
"4 4 4 4 989888878878888788 8 8 8 4 4 4 4 4 4 4 4 4",
"565656565756565657565656 4 3 4 878787887868 4 4 4 5 4 4 4 4",
"565756567565657565675656 5 4 4567 768787867878 4 5 4 4 4 4 4 8",
"656565675656565756565675 5 4 4 7 787887878687 8 78 4 4 4 4 5 5 9",
"565656565765656567565656 5 3 3 6 878878788878 7 3 5 3 5 5 3 8",
"565656756565656567565656 5 4 4 6 787887678787 4 5 4 5 4 4 4 8",
"565756565756565765656575 5 2 2 7 887887878878 2 3 2 3 2 2 2 9",
"676767676767667676767676 5 4 4 6 787678787878 4 5 4 5 4 4 4 8",
"4 4 4 5 7 5 5 5 8 4 4 4 5",
"2 2 2 778767 8 2 2 8 8 2 2 2 2",
"6 5 5 4 5 5 5 4 5 6 6 5 8",
"4 4 6 4 5 8898989 5 7 9 6 8 4 4",
"5 5 6 5 5 8676786 5 6 5 8 8 5 5",
"4 4 4 4 4 76786877 4 6 4 8 8 4 4",
"3 3 7 3 3 87876878 3 6 3 7 8 3 3",
"3 3 6 3 3 89787987 3 7 3 5 9 3 3",
"4 4 6 4 4 78786876 3 6 4 8 9 4 3",
"5 5 6 4 4 86787678 5 7 5 4 9 5 5",
"5 5 6 5 5 6 5 5 5 4 5 5 5",
"4 4 7 4 4 9898898 9 4 5 5 5 4 4",
"5 5 5 5 5 6767 9 5 5 5 5 5 5",
"5 5 5 5 5 4 9 5 5 5 5 5 5",
"5 5 5 5 5 4 8 5 5 5 5 5 5",
"4 4 6 4 4 5 9 4 5 5 4 4 4",
"3 3 4 3 3 4 9 3 3 3 3 3 3",
"4 4 5 5 5 7 5 5 8 5 6 5 4",
"3 3 3 3 3 4 9 3 3 3 3 3 3",
"3 3 4 3 3 4 9 3 5 4 4 3 3",
"5 5 3 5 5 5 9 3 5 5 5 5 3",
"3 3 787878678787878678787887878678787878 3 3 787878 3 7878 3 4 4 3 3",
"3 3 676868767676786767686767686767686768 3 3 6868 3 8989 3 4 4 3 3",
"3 3 787678787687878678787878687878678787 3 3 7676 3 7878 3 3 3 3 3",
"2 2 878978878878978878898887887878898887 2 2 7878 2 8888 2 4 2 2 2",
"5 5 767878767678676787678767867678767878 5 5 5 5 6767 5 5 5 5 5",
"2 2 878787878678787887876787878687878787 2 2 78787 2 8787 2 8 7 2 2",
"2 2 787878678787878778678787887867878787 2 2 68787 2 7878 2 7 7 2 2",
"4 4 4 5 5 6767 6 8 4 6 6 6 4",
"4 4 4 5 5 6 6 9778 4 6 7 7 4",
"5 5 5 5 5 5 5 5 8989 5 5 5 5",
"4 4 4 5 5 4 8 4 8898 4 4 4 5",
"5 5 5 5 6 5 5 5 9889 5 5 5 5",
"5 5 5 5 5 5 5 5 8788 5 5 5 5",
"4 4 4 5 5 4 5 4 9898 4 4 4 4",
"5 5 5 5 6 5 5 5 8998 5 5 5 5",
"4 4 6 5 5 4 5 5 7887 5 5 5 5",
"4 4 4 4 5 4 6 4 8998 4 4 4 4",
"5 5 5 5 5 4 5 4 7887 4 5 4 4",
"4 4 4 4 5 5 6 4 8787 4 4 4 7",
"4 4 5 5 5 7878 5 5 5 8 8 5 5",
"4 4 6 4 4 8787 4 4 4 9 8 4 4",
"4 4 5 4 4 7878 4 4 4 9 8 4 4",
"5 5 5 5 5 5 5 5 5 8 8 5 8",
"4 4 4 4 4 8787 4 4 4 8 5 4 4",
"4 4 4 4 4 7878 4 4 4 9 8 4 4",
"4 4 5 4 4 5 4 6 4 49 6 4 4",
"4 4 5 5 78 5 5 5 5 59 6 5 5",
"3 3 4 3 36 1 6 4 2 49 5 4 3",
"4 4 5 4 78 5 5 5 5 49 6 5 5",
"5 5 5 5 5 7 5 5 5 8 9 5 5",
"5 5 5 5 5 7 5 5 5 7 9 5 5",
"5 5 5 5 5 7 5 5 5 7 9 5 5",
"5 5 5 5 5 7 5 5 5 7 9 5 5",
"3 3 767676767676767676767676 3 3 7 4 7 3 8 9 3 3",
"4 4 676767767676767767676767 4 4 8 5 7 4 8 9 4 4",
"4 4 565656656565656565656565 4 4 8 6 6 5 6 9 4 4",
"4 4 4 4 4 5 7 7 9 7 6 8 4",
"5 5 5 5 5 5 5 5 5 5 5 9 5",
"4 4 5 4 4 5 7 4 8 7 6 8 5",
"3 3 6 2 2 8 5 9 8 7 6 8 3",
"4 4 5 4 4 5 7 7 9 5 5 9 4",
"5 5 5 5 5 5 5 5 5 5 5 9 5",
"5 5 5 5 5 5 5 5 5 5 5 9 5",
"5 5 5 5 5 5 5 5 5 5 5 9 5",
"5 5 5 5 5 5 5 5 5 5 5 9 5",
"5 5 5 5 5 5 5 5 5 5 5 9 5",
"5 5 5 5 5 5 5 5 5 5 5 5 9",
"5 5 5 5 5 5 5 5 5 5 5 5 9",
"5 5 5 5 5 5 5 5 5 5 5 5 8",
"4 4 5 4 5 5 5 8 7 4 4 4 9",
"4 4 5 4 5 5 5 4 4 4 4 4 8",
"4 4 5 4 5 5 4 4 4 4 4 4 9",
"6 5 5 5 5 4 5 4 5 5 5 5 9",
"3 3 4 4 7878 5 8 3 3 3 3 3 9",
"5 5 767687678767 5 5 7 4 7 4 7 7 4 9",
"4 5 4 4 5656 6 3 4 7 4 3 4 9",
]
heat_rows = heat_rows[:124]
tsne_names = [str(i) for i in range(13)]

def fig(w, h, l, r, t, b, xr, yr, **kw):
    p = figure(width=w, height=h, min_border_left=int(round(l)), min_border_right=int(round(r)), min_border_top=int(round(t)), min_border_bottom=int(round(b)),
               x_range=xr, y_range=yr, output_backend="svg", toolbar_location=None, **kw)
    p.outline_line_color = None
    p.grid.visible = False
    return p
def axes(p, xt, yt, xl, yl, ts=21, ls=23, tstand=5, lstand=5):
    for a, t, lab in ((p.xaxis[0], xt, xl), (p.yaxis[0], yt, yl)):
        a.ticker = FixedTicker(ticks=t)
        a.axis_label = lab
        a.axis_line_width = 2
        a.major_tick_line_width = 2
        a.major_tick_in = 0
        a.major_tick_out = 6
        a.minor_tick_line_color = None
        a.major_label_text_font = FONT
        a.major_label_text_font_size = f"{ts}px"
        a.major_label_text_color = "black"
        a.axis_label_text_color = "black"
        a.axis_label_text_font = FONT
        a.axis_label_text_font_size = f"{ls}px"
        a.axis_label_text_font_style = "normal"
    p.xaxis[0].major_label_standoff = tstand
    p.xaxis[0].axis_label_standoff = lstand
def canvas_label(p, x, y, text, size, bold=True, align="left"):
    p.add_layout(Label(x=x, y=y - 0.35 * size, x_units="canvas", y_units="canvas", text=text, text_font=FONT, text_font_size=f"{size}px",
                       text_font_style="bold" if bold else "normal", text_align=align, text_baseline="middle", text_color="black"))
def lin(lo, hi, p0, p1):
    return lambda P: lo + (P - p0) * (hi - lo) / (p1 - p0)
def key_legend(p, fx, fy, names, colors, size, dot_x, dot_y, step, text_x, fs):
    ys = [dot_y + i * step for i in range(len(names))]
    p.scatter([fx(dot_x)] * len(names), [fy(Y) for Y in ys], size=size, color=colors, marker="circle", line_color=None)
    p.text([fx(text_x)] * len(names), [fy(Y) for Y in ys], text=names, text_font_size=f"{fs}px", text_font={"value": FONT}, text_baseline="middle", text_color="black")
def draw_violins(p, prof, jit, mass_top, mass_dy, mass, mass_size):
    xs_all, ys_all = [], []
    for i, (ys, ws) in enumerate(prof):
        cx = i + 1
        p.patch([cx - w for w in ws] + [cx + w for w in reversed(ws)], ys + list(reversed(ys)), fill_color=violin_colors[i], line_color="#333333", line_width=1.5, line_join="round")
        for top, dy, rows in jit[cx]:
            for r, s in enumerate(rows):
                for c, ch in enumerate(s):
                    if ch != " ":
                        xs_all.append(cx - 0.4 + c * 0.05)
                        ys_all.append(top - r * dy - int(ch) / 10 * dy)
    p.scatter(xs_all, ys_all, size=3.2, color="black", line_color=None)
    mx, my = [], []
    for r, s in enumerate(mass):
        for c, ch in enumerate(s):
            mx.append(5 - 0.4 + c * 0.05)
            my.append(mass_top - r * mass_dy - int(ch) / 10 * mass_dy)
    p.scatter(mx, my, size=mass_size, color="black", line_color=None)
def read_cells(blocks, x0, dx, dy, order, colors):
    pts = []
    for y0, xoff, rows in blocks:
        for r, s in enumerate(rows):
            if not s:
                continue
            for seg in s.split(";"):
                st, txt = seg.split("|")
                for c, ch in enumerate(txt):
                    if ch != " ":
                        pts.append((order.index(ch), x0 + (int(st) + c + 0.5 * (r % 2)) * dx + xoff, y0 - r * dy))
    pts.sort(key=lambda t: t[0])
    return [t[1] for t in pts], [t[2] for t in pts], [colors[t[0]] for t in pts]

strip1 = fig(1884, 62, 0, 0, 0, 0, Range1d(0, 1884), Range1d(62, 0))
strip1.axis.visible = False
for x, t in ((10, "A"), (596, "B"), (1246, "C")):
    canvas_label(strip1, x, 42, t, 47)
canvas_label(strip1, 344, 49, "nFeature_RNA", 27, align="center")
canvas_label(strip1, 961, 49, "nCount_RNA", 27, align="center")

a = fig(620, 618, 81, 13, 4, 70, Range1d(0.4, 6.6), Range1d(146, 7351))
axes(a, [1, 2, 3, 4, 5, 6], [2000, 4000, 6000], "Identity", None, ls=24, tstand=3, lstand=-1)
a.xaxis.major_label_orientation = 0.785
draw_violins(a, a_prof, a_jit, 1300, 45, a_mass, 5.5)
b = fig(620, 618, 79, 15, 4, 70, Range1d(0.404, 6.61), Range1d(21530, 202290))
axes(b, [1, 2, 3, 4, 5, 6], [50000, 100000, 150000, 200000], "Identity", None, ls=24, tstand=3, lstand=-1)
b.xaxis.major_label_orientation = 0.785
b.yaxis.major_label_overrides = {50000: "50000", 100000: "100000", 150000: "150000", 200000: "200000"}
draw_violins(b, b_prof, b_jit, 60000, 1200, b_mass, 6.5)

c = fig(644, 618, 71, 48, 4, 70, Range1d(0.0269, 27160), Range1d(-1.98, 49.4), x_axis_type="log")
axes(c, [1, 100, 10000], [0, 10, 20, 30, 40], "Average Expression", "Standardized Variance", ls=24, tstand=3, lstand=-1)
c.yaxis.axis_label_text_font_size = "23px"
c.xaxis.major_label_overrides = {1: "1", 100: "100", 10000: "10000"}
rx, ry = [10 ** v for v in red_logx + hv_logx], red_y + hv_y
for r, s in enumerate(red_rows):
    for col, ch in enumerate(s):
        if ch != " ":
            rx.append(10 ** (-1.2 + (col + 0.5 * (r % 2)) * 0.1))
            ry.append(6.5 - r * 0.45 - int(ch) / 10 * 0.45)
for start, rows_ in ((3.1, red_dense), (2.95, red_dense2)):
    for r, s in enumerate(rows_):
        for col, ch in enumerate(s):
            if ch != " ":
                rx.append(10 ** (-1.22 + col * 0.05))
                ry.append(start - r * 0.35 - int(ch) / 10 * 0.35)
c.scatter(rx, ry, size=6.2, color="#FF0000", line_color=None)
kx, ky = [10 ** v for v in black_logx], list(black_y)
for r, s in enumerate(black_rows):
    for col, ch in enumerate(s):
        if ch != " ":
            kx.append(10 ** (-1.32 + col * 0.05))
            ky.append(1.25 - r * 0.3 - int(ch) / 10 * 0.3)
c.scatter(kx, ky, size=6.2, color="black", line_color=None)
c.text([10 ** v for v in hv_text_logx], hv_text_y, text=hv_names, text_font_size="12px", text_font={"value": FONT}, text_baseline="middle", text_color="black")
c.line([10 ** 1.812, 10 ** 1.995], [19.1, 19.1], color="black", line_width=2)
key_legend(c, lambda X: 10 ** ((X - 1448) / 87.5), lin(-1.98, 49.4, 610, 66), ["Non\u2212variable count: 10048", "Variable count: 1500"], ["black", "red"], 7, 1376, 169, 24, 1402, 20.5)

strip2 = fig(1884, 70, 0, 0, 0, 0, Range1d(0, 1884), Range1d(750, 680))
strip2.axis.visible = False
canvas_label(strip2, 13, 736 - 680, "D", 47)
canvas_label(strip2, 658, 736 - 680, "E", 47)
canvas_label(strip2, 301, 736 - 680, "PCA", 27, align="center")

d = fig(588, 540, 91, 0, 4, 65, Range1d(-8.5, 17.9), Range1d(-14.64, 23.43))
axes(d, [0, 10], [-10, 0, 10, 20], "PC_1", "PC_2", lstand=3)
d.yaxis.major_label_overrides = {-10: "\u221210"}
dx_, dy_, dc_ = read_cells([(21.5, 0, d_rows)] + [(y0, 0.15, rr) for y0, rr in d_extra], -8.5, 0.3, 0.5, "123456", hue6)
d.scatter(dx_, dy_, size=3.6, color=dc_, line_color=None)
dl = fig(92, 540, 0, 0, 0, 0, Range1d(588, 680), Range1d(1290, 750))
dl.axis.visible = False
key_legend(dl, lambda X: X, lambda Y: Y, list("123456"), hue6, 13, 624, 930, 26.2, 650, 22)

e = fig(582, 540, 72.5, 13, 4, 65, Range1d(-0.0049, 0.1051), Range1d(-0.0153, 0.315))
axes(e, [0, 0.025, 0.05, 0.075, 0.1], [0, 0.1, 0.2, 0.3], "Empirical", "Theoretical [runif(1000)]", lstand=3)
e.xaxis.major_label_overrides = {0: "0.000", 0.025: "0.025", 0.05: "0.050", 0.075: "0.075", 0.1: "0.100"}
e.yaxis.major_label_overrides = {0: "0.0", 0.1: "0.1", 0.2: "0.2", 0.3: "0.3"}
for xs, ys, col in zip(pc_x, pc_y, hue20):
    e.line(xs, ys, color=col, line_width=7, line_cap="round", line_join="round")
e.line([-0.0049, 0.105], [-0.0049, 0.105], color="black", line_width=2, line_dash=[9, 7])
f = fig(622, 540, 61, 64, 4, 65, Range1d(0.05, 20.97), Range1d(1.235, 5.898))
axes(f, [5, 10, 15, 20], [2, 3, 4, 5], "PC", "Standard Deviation", lstand=3)
f.scatter(list(range(1, 21)), pc_sd, size=8, color="black")

lf = fig(1884, 135, 0, 0, 0, 0, Range1d(0, 1884), Range1d(1425, 1290))
lf.axis.visible = False
canvas_label(lf, 418, 1369 - 1290, "PC: p-value", 24, bold=False)
for i, (x, tx) in enumerate(((572.5, 599), (779, 804), (982, 1008.6), (1198.5, 1224), (1403, 1429))):
    key_legend(lf, lambda X: X, lambda Y: Y, pc_labels[4 * i:4 * i + 4], hue20[4 * i:4 * i + 4], 8, x, 1320.7, 26, tx, 20)

sf = fig(653, 140, 0, 0, 0, 0, Range1d(0, 653), Range1d(1565, 1425))
sf.axis.visible = False
canvas_label(sf, 12, 1498 - 1425, "F", 47)
g = fig(653, 685, 81, 0, 15, 258, Range1d(-47.5, 58), Range1d(-52.6, 62.4))
axes(g, [-25, 0, 25, 50], [-30, 0, 30, 60], "tSNE_1", "tSNE_2", ts=22, ls=24, lstand=6)
g.xaxis.major_label_overrides = {-25: "\u221225"}
g.yaxis.major_label_overrides = {-30: "\u221230"}
fx_, fy_, fc_ = read_cells([(57, 0, f_rows)], -46, 1.0, 1.5, "0123456789abc", hue13)
g.scatter(fx_, fy_, size=4.8, color=fc_, line_color=None)
g.text(f_label_x, f_label_y, text=tsne_names, text_font_size="21px", text_font={"value": FONT}, text_align="center", text_baseline="middle", text_color="black")
lg = fig(107, 825, 0, 0, 0, 0, Range1d(653, 760), Range1d(2250, 1425))
lg.axis.visible = False
key_legend(lg, lambda X: X, lambda Y: Y, tsne_names, hue13, 13, 691.5, 1626, 27.8, 718, 21)
canvas_label(lg, 657 - 653, 1499 - 1425, "G", 47)

palette = ["#%02x00%02x" % (255 - i, 255 - i) for i in range(0, 256, 2)] + ["#%02x%02x00" % (i, i) for i in range(0, 256, 3)]
mapper = LinearColorMapper(palette=palette, low=-1, high=2.5)
h = fig(1124, 825, 68, 0, 30, 8, Range1d(0, 1056), Range1d(124, -8.887))
h.xaxis.visible = False
ya = h.yaxis[0]
ya.ticker = FixedTicker(ticks=[i + 0.5 for i in range(len(genes))])
ya.major_label_overrides = {i + 0.5: n for i, n in enumerate(genes)}
ya.axis_line_color = None
ya.major_tick_line_color = None
ya.minor_tick_line_color = None
ya.major_tick_out = 0
ya.major_label_standoff = 6
ya.major_label_text_font = FONT
ya.major_label_text_font_size = "11px"
ya.major_label_text_color = "#4D4D4D"
lefts, rights, tops, bots, vals = [], [], [], [], []
edges, pos = [], 0
for wd in cluster_width:
    edges.append((pos, pos + wd))
    pos += wd + 2.3
for r, txt in enumerate(heat_rows):
    toks = txt.split()
    for j, tok in enumerate(toks[:13]):
        e0, e1 = edges[j]
        seg = (e1 - e0) / len(tok)
        for k, ch in enumerate(tok):
            lefts.append(e0 + k * seg); rights.append(e0 + (k + 1) * seg)
            tops.append(r); bots.append(r + 1); vals.append(heat_level[int(ch)])
h.quad(left="l", right="r", top="t", bottom="b", fill_color={"field": "v", "transform": mapper}, line_color={"field": "v", "transform": mapper}, line_width=0.3,
       source=ColumnDataSource(dict(l=lefts, r=rights, t=tops, b=bots, v=vals)))
h.quad(left=[x0 for x0, _ in edges], right=[x1 for _, x1 in edges], top=[-4.45] * 13, bottom=[-1.97] * 13, fill_color=hue13, line_color=None)
h.text([(x0 + x1) / 2 for x0, x1 in edges], [-6.9] * 13, text=tsne_names, angle=0.785, text_font_size="16px", text_font={"value": FONT}, text_align="center", text_baseline="middle", text_color="black")
cb = ColorBar(color_mapper=mapper, width=20, height=98, location=(1816 - 828, 2242 - 1764), padding=0, margin=0,
              ticker=FixedTicker(ticks=[-1, 0, 1, 2]), major_label_text_font=FONT, major_label_text_font_size="13px", major_label_text_color="black",
              major_tick_line_color="white", major_tick_out=0, major_tick_in=3, label_standoff=6, bar_line_color=None)
h.add_layout(cb)
canvas_label(h, 1816 - 760, 1660 - 1425, "Expression", 13, bold=False)
canvas_label(h, 1816 - 760, 1800 - 1425, "Identity", 13, bold=False)
key_legend(h, lambda X: X - 828, lin(124, -8.887, 2242, 1455), tsne_names, hue13, 6, 1826, 1816.7, 19.6, 1842, 13)

page = column(strip1, row(a, b, c), strip2, row(d, column(dl), e, f), lf, row(column(column(sf), column(g)), column(lg), column(h)))
open("out.html", "w").write(file_html(page, INLINE))
